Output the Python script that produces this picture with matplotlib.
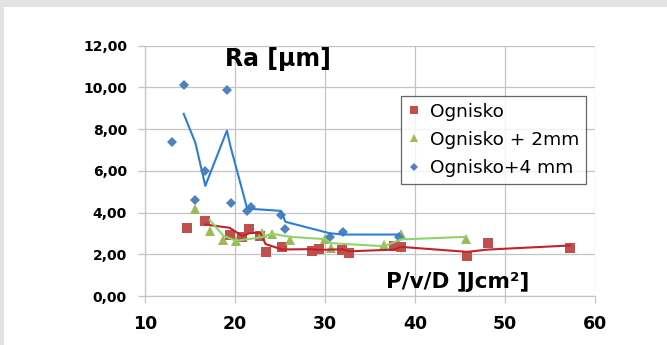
import matplotlib
matplotlib.use('Agg')
import matplotlib.pyplot as plt
from matplotlib.patches import Rectangle
import numpy as np
import pandas as pd

# data (P/v/D in J/cm2, Ra in um)
red_x = [14.7, 16.7, 19.4, 20.8, 21.6, 22.8, 23.4, 25.2, 28.6, 29.3, 31.9, 32.7, 37.7, 38.4, 45.8, 48.1, 57.2]
red_y = [3.25, 3.60, 2.94, 2.81, 3.21, 2.86, 2.12, 2.34, 2.15, 2.27, 2.21, 2.07, 2.38, 2.33, 1.90, 2.55, 2.29]

green_x = [15.6, 17.2, 18.7, 20.1, 23.0, 24.1, 26.1, 30.0, 30.7, 36.6, 38.4, 45.7]
green_y = [4.15, 3.13, 2.66, 2.63, 3.00, 2.97, 2.70, 2.75, 2.31, 2.46, 2.96, 2.71]

blue_x = [13.0, 14.3, 15.6, 16.7, 19.1, 19.5, 21.3, 21.8, 25.1, 25.6, 30.5, 32.0, 38.2]
blue_y = [7.36, 10.10, 4.58, 5.98, 9.87, 4.46, 4.09, 4.26, 3.90, 3.21, 2.81, 3.08, 2.81]

labels = ['Ognisko', 'Ognisko + 2mm', 'Ognisko+4 mm']

GRID = '#c4c4c4'
BORDER = '#e2e2e0'

fig = plt.figure(figsize=(6.67, 3.45), dpi=100, facecolor=BORDER)
fig.patches.append(Rectangle((4 / 667, 0), 1, (345 - 7) / 345, transform=fig.transFigure,
                             facecolor='white', edgecolor='none', zorder=-10))
ax = fig.add_axes([145 / 667, 1 - 296 / 345, 450 / 667, 250.4 / 345])
ax.set_facecolor('white')


def trend(xs, ys):
    # Excel style 2-period moving average
    s = pd.Series(ys, index=xs).sort_index()
    m = s.rolling(2).mean().dropna()
    return m.index.values, m.values


series = [
    (red_x, red_y, 's', 6.5, '#c0504d', '#c0232a'),
    (green_x, green_y, '^', 7.2, '#9bbb59', '#8ed46a'),
    (blue_x, blue_y, 'D', 5.5, '#4f81bd', '#2b7fd4'),
]
for (xs, ys, mk, ms, mc, lc), lab in zip(series, labels):
    ax.plot(xs, ys, linestyle='none', marker=mk, markersize=ms, color=mc,
            markeredgewidth=0, label=lab, zorder=3)
    tx, ty = trend(xs, ys)
    ax.plot(tx, ty, color=lc, linewidth=1.5, zorder=4)

ax.set_xlim(10, 60)
ax.set_ylim(0, 12)
ax.set_xticks(np.arange(10, 61, 10))
ax.set_yticks(np.arange(0, 12.1, 2))
ax.set_yticklabels([f'{v:.2f}'.replace('.', ',') for v in np.arange(0, 12.1, 2)])
ax.grid(True, color=GRID, linewidth=0.9)
ax.set_axisbelow(True)
for s in ['top', 'right']:
    ax.spines[s].set_visible(False)
for s in ['left', 'bottom']:
    ax.spines[s].set_color(GRID)
    ax.spines[s].set_linewidth(0.9)
ax.tick_params(axis='both', direction='out', length=5, width=0.9, color=GRID)
ax.tick_params(axis='y', labelsize=10, pad=8)
ax.tick_params(axis='x', labelsize=12.5, pad=9)
for t in ax.get_xticklabels() + ax.get_yticklabels():
    t.set_fontweight('bold')

ax.text(18.9, 11.35, 'Ra [μm]', fontsize=17, fontweight='bold', ha='left', va='center')
ax.text(36.8, 0.65, 'P/v/D ]Jcm²]', fontsize=15.5, fontweight='bold', ha='left', va='center')

leg = ax.legend(loc='upper left', bbox_to_anchor=(0.568, 0.80), borderaxespad=0,
                fontsize=13.3, frameon=True, fancybox=False, handlelength=0.7,
                handletextpad=0.5, labelspacing=0.55, borderpad=0.38, markerscale=0.8)
leg.get_frame().set_edgecolor('#404040')
leg.get_frame().set_linewidth(0.9)

fig.savefig('out.png', dpi=100, facecolor=fig.get_facecolor())
